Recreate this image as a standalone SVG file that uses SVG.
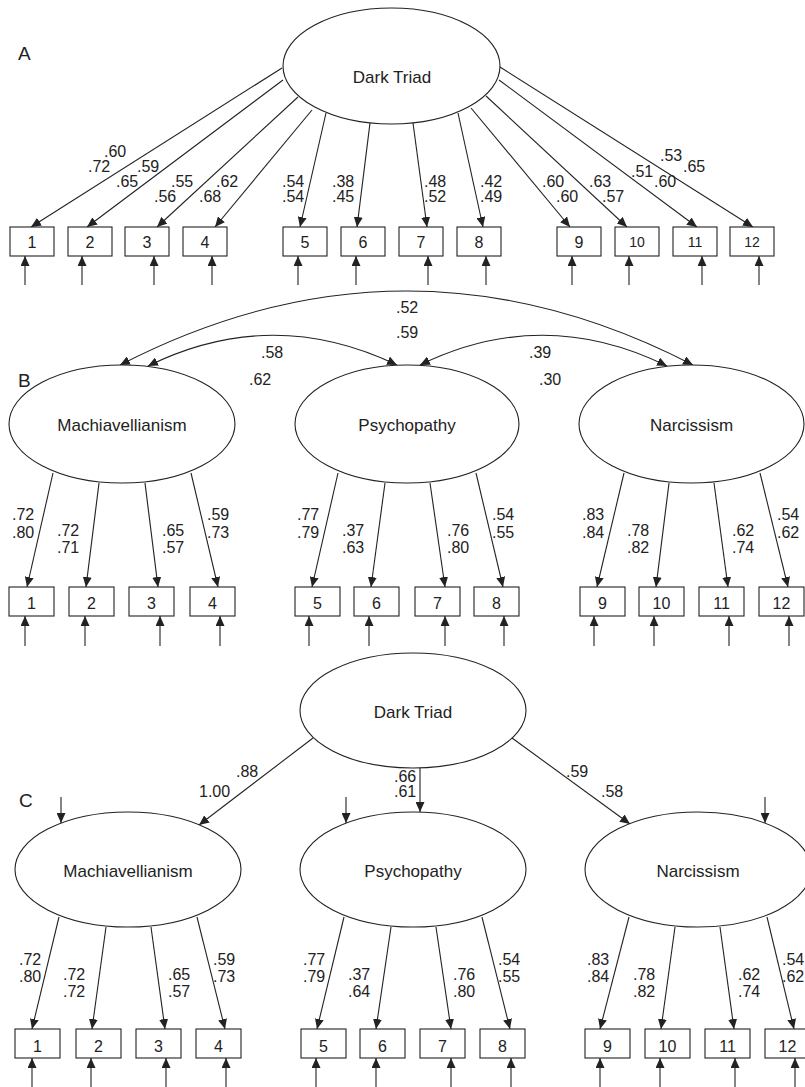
<svg xmlns="http://www.w3.org/2000/svg" width="805" height="1087" viewBox="0 0 805 1087">
<defs>
<marker id="ah" viewBox="0 0 10 9" refX="10" refY="4.5" markerWidth="10" markerHeight="9" markerUnits="userSpaceOnUse" orient="auto-start-reverse"><path d="M0,0L10,4.5L0,9z" fill="#222"/></marker>
<style>
.el{fill:#fff;stroke:#222;stroke-width:1.1}
.bx{fill:#fff;stroke:#222;stroke-width:1.1}
.ln{fill:none;stroke:#222;stroke-width:1.1;marker-end:url(#ah)}
.bi{fill:none;stroke:#222;stroke-width:1.1;marker-end:url(#ah);marker-start:url(#ah)}
text{font-family:"Liberation Sans",Arial,sans-serif;fill:#222}
.nm{font-size:17px;text-anchor:middle}
.num{font-size:16px;text-anchor:middle}
.sm{font-size:14px;text-anchor:middle}
.lb{font-size:16px}
.pl{font-size:19px}
</style>
</defs>
<rect width="805" height="1087" fill="#fff"/>

<!-- Panel labels -->
<text class="pl" x="18" y="60">A</text>
<text class="pl" x="18" y="387">B</text>
<text class="pl" x="19" y="807">C</text>

<!-- Connectors -->
<g id="connectors">
<!-- A loadings -->
<line class="ln" x1="282" y1="68" x2="31" y2="227"/>
<line class="ln" x1="283" y1="80" x2="87" y2="227"/>
<line class="ln" x1="298" y1="97" x2="157" y2="227"/>
<line class="ln" x1="312" y1="110" x2="215" y2="227"/>
<line class="ln" x1="326" y1="113" x2="300" y2="227"/>
<line class="ln" x1="370" y1="123" x2="357" y2="227"/>
<line class="ln" x1="413" y1="123" x2="427" y2="227"/>
<line class="ln" x1="458" y1="113" x2="483" y2="227"/>
<line class="ln" x1="471" y1="108" x2="570" y2="227"/>
<line class="ln" x1="486" y1="96" x2="627" y2="227"/>
<line class="ln" x1="499" y1="80" x2="697" y2="227"/>
<line class="ln" x1="500" y1="67" x2="753" y2="227"/>
<!-- A errors -->
<line class="ln" x1="25" y1="285" x2="25" y2="256"/>
<line class="ln" x1="82" y1="285" x2="82" y2="256"/>
<line class="ln" x1="154" y1="285" x2="154" y2="256"/>
<line class="ln" x1="212" y1="285" x2="212" y2="256"/>
<line class="ln" x1="298" y1="285" x2="298" y2="256"/>
<line class="ln" x1="356" y1="285" x2="356" y2="256"/>
<line class="ln" x1="428" y1="285" x2="428" y2="256"/>
<line class="ln" x1="486" y1="285" x2="486" y2="256"/>
<line class="ln" x1="572" y1="285" x2="572" y2="256"/>
<line class="ln" x1="629" y1="285" x2="629" y2="256"/>
<line class="ln" x1="702" y1="285" x2="702" y2="256"/>
<line class="ln" x1="759" y1="285" x2="759" y2="256"/>

<!-- B covariances -->
<path class="bi" d="M120,365 Q407,217 693,365"/>
<path class="bi" d="M148,366 Q272,305 397,365"/>
<path class="bi" d="M420,365 Q543,305 667,366"/>
<!-- B loadings -->
<line class="ln" x1="53" y1="473" x2="27" y2="587"/>
<line class="ln" x1="99" y1="483" x2="86" y2="587"/>
<line class="ln" x1="145" y1="483" x2="158" y2="587"/>
<line class="ln" x1="191" y1="473" x2="218" y2="587"/>
<line class="ln" x1="338" y1="473" x2="312" y2="587"/>
<line class="ln" x1="385" y1="483" x2="371" y2="587"/>
<line class="ln" x1="430" y1="483" x2="445" y2="587"/>
<line class="ln" x1="476" y1="473" x2="503" y2="587"/>
<line class="ln" x1="624" y1="473" x2="597" y2="587"/>
<line class="ln" x1="669" y1="483" x2="656" y2="587"/>
<line class="ln" x1="714" y1="483" x2="728" y2="587"/>
<line class="ln" x1="760" y1="473" x2="788" y2="587"/>
<!-- B errors -->
<line class="ln" x1="25" y1="646" x2="25" y2="616"/>
<line class="ln" x1="85" y1="646" x2="85" y2="616"/>
<line class="ln" x1="160" y1="646" x2="160" y2="616"/>
<line class="ln" x1="220" y1="646" x2="220" y2="616"/>
<line class="ln" x1="309" y1="646" x2="309" y2="616"/>
<line class="ln" x1="369" y1="646" x2="369" y2="616"/>
<line class="ln" x1="445" y1="646" x2="445" y2="616"/>
<line class="ln" x1="504" y1="646" x2="504" y2="616"/>
<line class="ln" x1="594" y1="646" x2="594" y2="616"/>
<line class="ln" x1="654" y1="646" x2="654" y2="616"/>
<line class="ln" x1="729" y1="646" x2="729" y2="616"/>
<line class="ln" x1="789" y1="646" x2="789" y2="616"/>

<!-- C structural -->
<line class="ln" x1="313" y1="738" x2="199" y2="825"/>
<line class="ln" x1="420" y1="768" x2="420" y2="812"/>
<line class="ln" x1="512" y1="738" x2="630" y2="824"/>
<!-- C disturbances -->
<line class="ln" x1="61" y1="797" x2="61" y2="823"/>
<line class="ln" x1="346" y1="797" x2="346" y2="823"/>
<line class="ln" x1="765" y1="797" x2="765" y2="823"/>
<!-- C loadings -->
<line class="ln" x1="59" y1="917" x2="32" y2="1029"/>
<line class="ln" x1="106" y1="927" x2="92" y2="1029"/>
<line class="ln" x1="151" y1="927" x2="165" y2="1029"/>
<line class="ln" x1="197" y1="917" x2="225" y2="1029"/>
<line class="ln" x1="344" y1="917" x2="317" y2="1029"/>
<line class="ln" x1="391" y1="927" x2="376" y2="1029"/>
<line class="ln" x1="436" y1="927" x2="451" y2="1029"/>
<line class="ln" x1="482" y1="917" x2="510" y2="1029"/>
<line class="ln" x1="629" y1="917" x2="600" y2="1029"/>
<line class="ln" x1="675" y1="927" x2="661" y2="1029"/>
<line class="ln" x1="720" y1="927" x2="734" y2="1029"/>
<line class="ln" x1="767" y1="917" x2="794" y2="1029"/>
<!-- C errors -->
<line class="ln" x1="32" y1="1090" x2="32" y2="1058"/>
<line class="ln" x1="91" y1="1090" x2="91" y2="1058"/>
<line class="ln" x1="166" y1="1090" x2="166" y2="1058"/>
<line class="ln" x1="226" y1="1090" x2="226" y2="1058"/>
<line class="ln" x1="316" y1="1090" x2="316" y2="1058"/>
<line class="ln" x1="376" y1="1090" x2="376" y2="1058"/>
<line class="ln" x1="451" y1="1090" x2="451" y2="1058"/>
<line class="ln" x1="511" y1="1090" x2="511" y2="1058"/>
<line class="ln" x1="600" y1="1090" x2="600" y2="1058"/>
<line class="ln" x1="660" y1="1090" x2="660" y2="1058"/>
<line class="ln" x1="735" y1="1090" x2="735" y2="1058"/>
<line class="ln" x1="795" y1="1090" x2="795" y2="1058"/>
</g>

<!-- Panel A nodes -->
<g id="A-darktriad"><ellipse class="el" cx="391.5" cy="66" rx="108.5" ry="58"/><text class="nm" x="392" y="83">Dark Triad</text></g>
<g id="A-i1"><rect class="bx" x="10" y="227" width="44" height="29"/><text class="num" x="32" y="248">1</text></g>
<g id="A-i2"><rect class="bx" x="68" y="227" width="44" height="29"/><text class="num" x="90" y="248">2</text></g>
<g id="A-i3"><rect class="bx" x="125" y="227" width="44" height="29"/><text class="num" x="147" y="248">3</text></g>
<g id="A-i4"><rect class="bx" x="183" y="227" width="44" height="29"/><text class="num" x="205" y="248">4</text></g>
<g id="A-i5"><rect class="bx" x="283" y="227" width="44" height="29"/><text class="num" x="305" y="248">5</text></g>
<g id="A-i6"><rect class="bx" x="341" y="227" width="44" height="29"/><text class="num" x="363" y="248">6</text></g>
<g id="A-i7"><rect class="bx" x="399" y="227" width="44" height="29"/><text class="num" x="421" y="248">7</text></g>
<g id="A-i8"><rect class="bx" x="457" y="227" width="44" height="29"/><text class="num" x="479" y="248">8</text></g>
<g id="A-i9"><rect class="bx" x="557" y="227" width="44" height="29"/><text class="num" x="579" y="248">9</text></g>
<g id="A-i10"><rect class="bx" x="615" y="227" width="44" height="29"/><text class="sm" x="637" y="247">10</text></g>
<g id="A-i11"><rect class="bx" x="673" y="227" width="44" height="29"/><text class="sm" x="695" y="247">11</text></g>
<g id="A-i12"><rect class="bx" x="730" y="227" width="44" height="29"/><text class="sm" x="752" y="247">12</text></g>

<!-- Panel A labels -->
<g id="A-labels" class="lb">
<text class="lb" x="104" y="157">.60</text><text class="lb" x="88" y="172">.72</text>
<text class="lb" x="137" y="172">.59</text><text class="lb" x="116" y="187">.65</text>
<text class="lb" x="171" y="187">.55</text><text class="lb" x="154" y="202">.56</text>
<text class="lb" x="216" y="187">.62</text><text class="lb" x="199" y="202">.68</text>
<text class="lb" x="282" y="187">.54</text><text class="lb" x="282" y="202">.54</text>
<text class="lb" x="332" y="187">.38</text><text class="lb" x="332" y="202">.45</text>
<text class="lb" x="424" y="187">.48</text><text class="lb" x="424" y="202">.52</text>
<text class="lb" x="480" y="187">.42</text><text class="lb" x="480" y="202">.49</text>
<text class="lb" x="542" y="187">.60</text><text class="lb" x="556" y="202">.60</text>
<text class="lb" x="589" y="187">.63</text><text class="lb" x="602" y="202">.57</text>
<text class="lb" x="631" y="177">.51</text><text class="lb" x="654" y="187">.60</text>
<text class="lb" x="660" y="161">.53</text><text class="lb" x="683" y="172">.65</text>
</g>

<!-- Panel B nodes -->
<g id="B-mach"><ellipse class="el" cx="122" cy="424" rx="113" ry="59"/><text class="nm" x="122" y="431">Machiavellianism</text></g>
<g id="B-psych"><ellipse class="el" cx="407" cy="424" rx="112" ry="59"/><text class="nm" x="407" y="431">Psychopathy</text></g>
<g id="B-narc"><ellipse class="el" cx="691.5" cy="424" rx="112.5" ry="59"/><text class="nm" x="691.5" y="431">Narcissism</text></g>
<g id="B-i1"><rect class="bx" x="9" y="587" width="45" height="29"/><text class="num" x="31.5" y="609">1</text></g>
<g id="B-i2"><rect class="bx" x="69" y="587" width="45" height="29"/><text class="num" x="91.5" y="609">2</text></g>
<g id="B-i3"><rect class="bx" x="129" y="587" width="45" height="29"/><text class="num" x="151.5" y="609">3</text></g>
<g id="B-i4"><rect class="bx" x="190" y="587" width="45" height="29"/><text class="num" x="212.5" y="609">4</text></g>
<g id="B-i5"><rect class="bx" x="295" y="587" width="45" height="29"/><text class="num" x="317.5" y="609">5</text></g>
<g id="B-i6"><rect class="bx" x="354" y="587" width="45" height="29"/><text class="num" x="376.5" y="609">6</text></g>
<g id="B-i7"><rect class="bx" x="415" y="587" width="45" height="29"/><text class="num" x="437.5" y="609">7</text></g>
<g id="B-i8"><rect class="bx" x="474" y="587" width="45" height="29"/><text class="num" x="496.5" y="609">8</text></g>
<g id="B-i9"><rect class="bx" x="580" y="587" width="45" height="29"/><text class="num" x="602.5" y="609">9</text></g>
<g id="B-i10"><rect class="bx" x="639" y="587" width="45" height="29"/><text class="num" x="661.5" y="609">10</text></g>
<g id="B-i11"><rect class="bx" x="699" y="587" width="45" height="29"/><text class="num" x="721.5" y="609">11</text></g>
<g id="B-i12"><rect class="bx" x="759" y="587" width="45" height="29"/><text class="num" x="781.5" y="609">12</text></g>

<!-- Panel B labels -->
<g id="B-labels">
<text class="lb" x="396" y="313">.52</text><text class="lb" x="396" y="338">.59</text>
<text class="lb" x="261" y="358">.58</text><text class="lb" x="249" y="385">.62</text>
<text class="lb" x="529" y="358">.39</text><text class="lb" x="539" y="385">.30</text>
<text class="lb" x="12" y="520">.72</text><text class="lb" x="12" y="538">.80</text>
<text class="lb" x="57" y="536">.72</text><text class="lb" x="57" y="553">.71</text>
<text class="lb" x="162" y="536">.65</text><text class="lb" x="162" y="553">.57</text>
<text class="lb" x="207" y="520">.59</text><text class="lb" x="207" y="538">.73</text>
<text class="lb" x="297" y="520">.77</text><text class="lb" x="297" y="538">.79</text>
<text class="lb" x="342" y="536">.37</text><text class="lb" x="342" y="553">.63</text>
<text class="lb" x="447" y="536">.76</text><text class="lb" x="447" y="553">.80</text>
<text class="lb" x="492" y="520">.54</text><text class="lb" x="492" y="538">.55</text>
<text class="lb" x="582" y="520">.83</text><text class="lb" x="582" y="538">.84</text>
<text class="lb" x="627" y="536">.78</text><text class="lb" x="627" y="553">.82</text>
<text class="lb" x="732" y="536">.62</text><text class="lb" x="732" y="553">.74</text>
<text class="lb" x="777" y="520">.54</text><text class="lb" x="777" y="538">.62</text>
</g>

<!-- Panel C nodes -->
<g id="C-darktriad"><ellipse class="el" cx="413" cy="710.5" rx="113" ry="57.5"/><text class="nm" x="413" y="718">Dark Triad</text></g>
<g id="C-mach"><ellipse class="el" cx="128" cy="869.5" rx="113" ry="57.5"/><text class="nm" x="128" y="877">Machiavellianism</text></g>
<g id="C-psych"><ellipse class="el" cx="413" cy="869.5" rx="113" ry="57.5"/><text class="nm" x="413" y="877">Psychopathy</text></g>
<g id="C-narc"><ellipse class="el" cx="698" cy="869.5" rx="113" ry="57.5"/><text class="nm" x="698" y="877">Narcissism</text></g>
<g id="C-i1"><rect class="bx" x="15" y="1029" width="45" height="29"/><text class="num" x="37.5" y="1052">1</text></g>
<g id="C-i2"><rect class="bx" x="76" y="1029" width="45" height="29"/><text class="num" x="98.5" y="1052">2</text></g>
<g id="C-i3"><rect class="bx" x="136" y="1029" width="45" height="29"/><text class="num" x="158.5" y="1052">3</text></g>
<g id="C-i4"><rect class="bx" x="196" y="1029" width="45" height="29"/><text class="num" x="218.5" y="1052">4</text></g>
<g id="C-i5"><rect class="bx" x="301" y="1029" width="45" height="29"/><text class="num" x="323.5" y="1052">5</text></g>
<g id="C-i6"><rect class="bx" x="360" y="1029" width="45" height="29"/><text class="num" x="382.5" y="1052">6</text></g>
<g id="C-i7"><rect class="bx" x="420" y="1029" width="45" height="29"/><text class="num" x="442.5" y="1052">7</text></g>
<g id="C-i8"><rect class="bx" x="480" y="1029" width="45" height="29"/><text class="num" x="502.5" y="1052">8</text></g>
<g id="C-i9"><rect class="bx" x="585" y="1029" width="45" height="29"/><text class="num" x="607.5" y="1052">9</text></g>
<g id="C-i10"><rect class="bx" x="645" y="1029" width="45" height="29"/><text class="num" x="667.5" y="1052">10</text></g>
<g id="C-i11"><rect class="bx" x="705" y="1029" width="45" height="29"/><text class="num" x="727.5" y="1052">11</text></g>
<g id="C-i12"><rect class="bx" x="765" y="1029" width="45" height="29"/><text class="num" x="787.5" y="1052">12</text></g>

<!-- Panel C labels -->
<g id="C-labels">
<text class="lb" x="236" y="777">.88</text><text class="lb" x="199" y="797">1.00</text>
<text class="lb" x="394" y="782">.66</text><text class="lb" x="394" y="797">.61</text>
<text class="lb" x="566" y="777">.59</text><text class="lb" x="601" y="797">.58</text>
<text class="lb" x="19" y="965">.72</text><text class="lb" x="19" y="982">.80</text>
<text class="lb" x="63" y="980">.72</text><text class="lb" x="63" y="997">.72</text>
<text class="lb" x="168" y="980">.65</text><text class="lb" x="168" y="997">.57</text>
<text class="lb" x="213" y="965">.59</text><text class="lb" x="213" y="982">.73</text>
<text class="lb" x="303" y="965">.77</text><text class="lb" x="303" y="982">.79</text>
<text class="lb" x="348" y="980">.37</text><text class="lb" x="348" y="997">.64</text>
<text class="lb" x="453" y="980">.76</text><text class="lb" x="453" y="997">.80</text>
<text class="lb" x="498" y="965">.54</text><text class="lb" x="498" y="982">.55</text>
<text class="lb" x="587" y="965">.83</text><text class="lb" x="587" y="982">.84</text>
<text class="lb" x="633" y="980">.78</text><text class="lb" x="633" y="997">.82</text>
<text class="lb" x="738" y="980">.62</text><text class="lb" x="738" y="997">.74</text>
<text class="lb" x="782" y="965">.54</text><text class="lb" x="782" y="982">.62</text>
</g>
</svg>
